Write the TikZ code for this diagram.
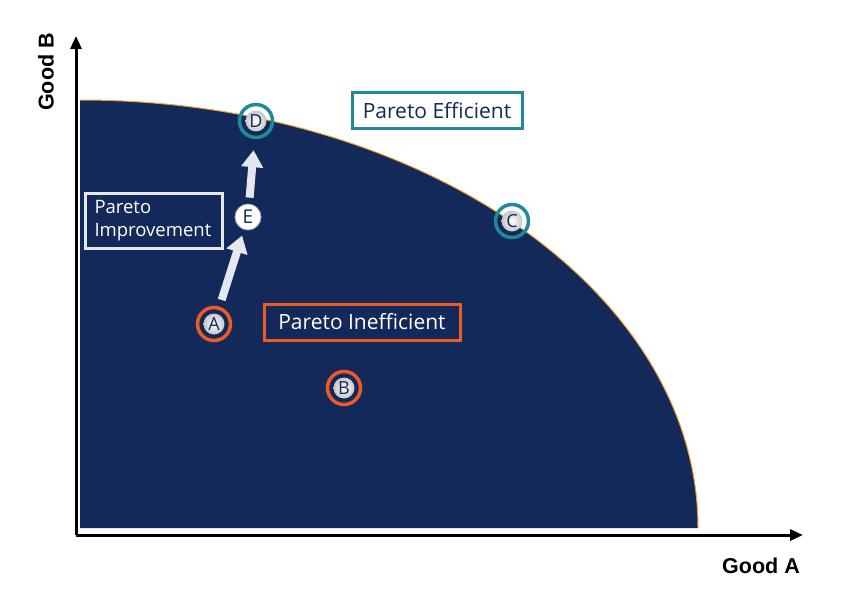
\documentclass[tikz,border=0pt]{standalone}
\usepackage{fontspec}
\setmainfont{Open Sans}
\newfontfamily\axisfont{Liberation Sans}
\usetikzlibrary{arrows.meta}
\definecolor{navy}{HTML}{12295A}
\definecolor{ringorange}{HTML}{EE5A24}
\definecolor{ringteal}{HTML}{1F8A99}
\definecolor{edgeorange}{HTML}{F0A030}
\definecolor{arrowgray}{HTML}{E4E7EE}
\definecolor{boxgray}{HTML}{E6E8EE}
\tikzset{
  axisline/.style={line width=3pt, -{Triangle[length=13pt,width=11pt]}},
  ringo/.style={circle, draw=ringorange, line width=3.5pt, minimum size=33pt, inner sep=0pt},
  ringt/.style={circle, draw=ringteal, line width=3.5pt, minimum size=33pt, inner sep=0pt},
  letterdisk/.style={circle, inner sep=0pt, minimum size=21pt, inner color=white, outer color=gray!45, text=navy, font=\fontsize{18}{18}\selectfont},
  edisk/.style={circle, inner sep=0pt, minimum size=26pt, fill=white, draw=navy!40, line width=0.8pt, text=navy, font=\fontsize{19}{19}\selectfont},
  blockarrow/.style={arrowgray, line width=8pt, -{Triangle[length=17pt,width=21pt]}},
  labelbox/.style={rectangle, line width=3pt, inner sep=0pt},
  axislabel/.style={font=\axisfont\bfseries\fontsize{21.5}{21.5}\selectfont}
}
\begin{document}
\begin{tikzpicture}[x=1pt,y=-1pt]
\useasboundingbox (0,0) rectangle (842,607);
% feasible region
\fill[navy] (80,528) -- (80,100) arc[start angle=-90, end angle=0, x radius=618, y radius=428] -- cycle;
\draw[edgeorange, line width=1pt] (80,100) arc[start angle=-90, end angle=0, x radius=618, y radius=428];
% axes
\coordinate (O) at (76,535);
\coordinate (Ytop) at (76,36);
\coordinate (Xend) at (803,535);
\draw[axisline] (O) -- (Ytop);
\draw[axisline] (O) -- (Xend);
\node[axislabel, rotate=90] (gb) at (46,72) {Good B};
\node[axislabel] (ga) at (761,566) {Good A};
% labels
\node[labelbox, draw=ringteal, fill=white, text=navy, minimum width=170pt, minimum height=35pt, font=\fontsize{21}{24}\selectfont] (eff) at (437,110.5) {Pareto Efficient};
\node[labelbox, draw=ringorange, fill=navy, text=white, minimum width=196pt, minimum height=36pt, font=\fontsize{21}{24}\selectfont] (ineff) at (362,322) {Pareto Inefficient};
\node[labelbox, draw=boxgray, fill=navy, text=white, minimum width=137pt, minimum height=55pt, text width=118pt, align=left, font=\fontsize{18.5}{23.5}\selectfont] (impr) at (153.5,220.5) {Pareto\\Improvement};
% points
\node[ringo] (A) at (214,324) {};
\node[letterdisk] (Al) at (A) {A};
\node[ringo] (B) at (344,388) {};
\node[letterdisk] (Bl) at (B) {B};
\node[ringt] (C) at (512,221) {};
\node[letterdisk] (Cl) at (C) {C};
\node[ringt] (D) at (256,121) {};
\node[letterdisk] (Dl) at (D) {D};
\node[edisk] (E) at (248,217) {E};
% improvement arrows
\draw[blockarrow, shorten <=7pt, shorten >=6pt] (A) -- (E);
\draw[blockarrow, shorten <=6pt, shorten >=11pt] (E) -- (D);
\end{tikzpicture}
\end{document}
